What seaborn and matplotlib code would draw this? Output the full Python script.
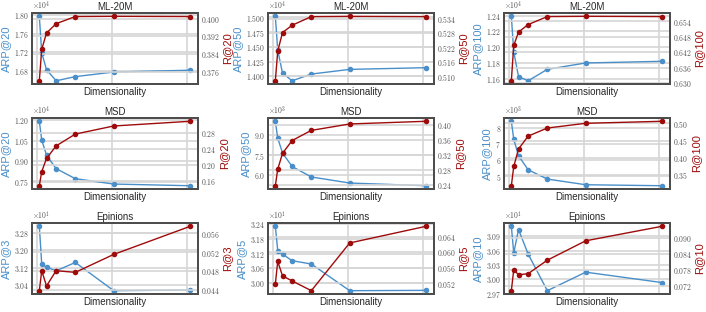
import matplotlib
matplotlib.use("Agg")
import matplotlib.pyplot as plt
import matplotlib.ticker as mticker
import seaborn as sns

# dimensionality values (x axis)
dims = [16, 32, 64, 128, 256, 512, 1024]

# ML-20M
ml_arp20 = [17978, 17190, 16820, 16580, 16670, 16770, 16810]
ml_r20 = [0.3721, 0.3862, 0.3935, 0.3977, 0.4009, 0.4010, 0.4009]
ml_arp50 = [15017, 14443, 14057, 13926, 14040, 14119, 14148]
ml_r50 = [0.5082, 0.5205, 0.5282, 0.5312, 0.5348, 0.5349, 0.5348]
ml_arp100 = [12391, 11940, 11626, 11574, 11719, 11800, 11821]
ml_r100 = [0.6309, 0.6446, 0.6498, 0.6527, 0.6558, 0.6559, 0.6558]

# MSD
msd_arp20 = [11926, 10549, 9443, 8459, 7722, 7328, 7205]
msd_r20 = [0.1481, 0.1838, 0.2170, 0.2485, 0.2783, 0.2987, 0.3106]
msd_arp50 = [10000, 8750, 7650, 6650, 5875, 5425, 5225]
msd_r50 = [0.2382, 0.2825, 0.3250, 0.3593, 0.3864, 0.4036, 0.4108]
msd_arp100 = [8435, 7317, 6282, 5412, 4834, 4480, 4418]
msd_r100 = [0.3186, 0.3745, 0.4255, 0.4627, 0.4863, 0.5000, 0.5059]

# Epinions
epi_arp3 = [33.105, 31.367, 31.228, 31.057, 31.441, 30.146, 30.178]
epi_r3 = [0.04395, 0.04815, 0.04494, 0.04815, 0.04780, 0.05157, 0.05750]
epi_arp5 = [32.329, 31.329, 31.179, 30.912, 30.775, 29.679, 29.692]
epi_r5 = [0.05181, 0.05763, 0.05390, 0.05259, 0.05006, 0.06243, 0.06677]
epi_arp10 = [31.110, 30.551, 31.041, 30.530, 29.766, 30.152, 29.934]
epi_r10 = [0.0702, 0.0781, 0.0762, 0.0766, 0.0817, 0.0890, 0.0945]

panels = [
    ("ML-20M", "ARP@20", "R@20", ml_arp20, ml_r20, 400, 0.008),
    ("ML-20M", "ARP@50", "R@50", ml_arp50, ml_r50, 250, 0.006),
    ("ML-20M", "ARP@100", "R@100", ml_arp100, ml_r100, 200, 0.006),
    ("MSD", "ARP@20", "R@20", msd_arp20, msd_r20, 1500, 0.04),
    ("MSD", "ARP@50", "R@50", msd_arp50, msd_r50, 1500, 0.04),
    ("MSD", "ARP@100", "R@100", msd_arp100, msd_r100, 1000, 0.05),
    ("Epinions", "ARP@3", "R@3", epi_arp3, epi_r3, 0.8, 0.004),
    ("Epinions", "ARP@5", "R@5", epi_arp5, epi_r5, 0.6, 0.004),
    ("Epinions", "ARP@10", "R@10", epi_arp10, epi_r10, 0.3, 0.006),
]

sns.set_theme(style="whitegrid")
plt.rcParams["font.family"] = "cmr10"
plt.rcParams["mathtext.fontset"] = "cm"
plt.rcParams["axes.formatter.use_mathtext"] = True
plt.rcParams["axes.unicode_minus"] = False
plt.rcParams["grid.color"] = "#d6d6d6"
plt.rcParams["grid.linewidth"] = 1.2

blue = "#4a8fc9"
red = "#9e0b0b"
sans = "Liberation Sans"
spine_col = "#4d4d4d"
tick_col = "#555555"

fig, axes = plt.subplots(3, 3, figsize=(7.06, 3.12), dpi=100)
fig.subplots_adjust(left=0.045, right=0.949, top=0.958, bottom=0.058,
                    wspace=0.42, hspace=0.48)

for ax, (title, lab_l, lab_r, arp, rec, step_l, step_r) in zip(axes.flat, panels):
    sns.lineplot(x=dims, y=arp, ax=ax, color=blue, marker="o", markersize=4,
                 markeredgewidth=0, linewidth=1.0)
    ax2 = ax.twinx()
    sns.lineplot(x=dims, y=rec, ax=ax2, color=red, marker="o", markersize=4,
                 markeredgewidth=0, linewidth=1.0)

    ax.yaxis.set_major_locator(mticker.MultipleLocator(step_l))
    ax2.yaxis.set_major_locator(mticker.MultipleLocator(step_r))
    fmt = mticker.ScalarFormatter(useMathText=True)
    fmt.set_powerlimits((0, 0))
    ax.yaxis.set_major_formatter(fmt)

    for a in (ax, ax2):
        a.tick_params(axis="x", labelbottom=False, length=0)
        a.tick_params(axis="y", labelsize=5.5, colors=tick_col, pad=2, length=0)
        a.yaxis.get_offset_text().set_fontsize(5.5)
        a.yaxis.get_offset_text().set_color(tick_col)
        for s in a.spines.values():
            s.set_color(spine_col)
            s.set_linewidth(1.4)

    ax.set_title(title, fontfamily=sans, fontsize=7, pad=2)
    ax.set_xlabel("Dimensionality", fontfamily=sans, fontsize=7, labelpad=2)
    ax.set_ylabel(lab_l, fontfamily=sans, fontsize=8, color=blue, labelpad=2)
    ax2.set_ylabel(lab_r, fontfamily=sans, fontsize=8, color=red, labelpad=2)

fig.savefig("out.png", dpi=100)
